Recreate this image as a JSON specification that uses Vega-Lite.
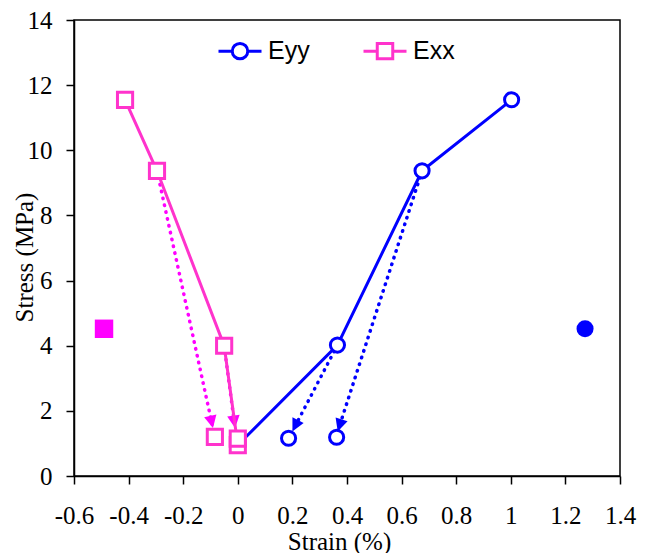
{
  "$schema": "https://vega.github.io/schema/vega-lite/v6.json",
  "autosize": "none",
  "width": 546,
  "height": 456,
  "padding": {"left": 74, "top": 20, "right": 28, "bottom": 77},
  "background": "white",
  "config": {
    "view": {"stroke": "black", "strokeWidth": 1.5},
    "axis": {
      "grid": false,
      "domainColor": "black",
      "domainWidth": 1.5,
      "tickColor": "black",
      "tickWidth": 1.5,
      "tickSize": 8,
      "labelFont": "Liberation Serif",
      "labelFontSize": 25,
      "labelColor": "black",
      "titleFont": "Liberation Serif",
      "titleFontSize": 25,
      "titleFontWeight": "normal",
      "titleColor": "black"
    }
  },
  "datasets": {
    "lines": [
      {"series": "Eyy", "i": 1, "strain": 0.0, "stress": 0.95},
      {"series": "Eyy", "i": 2, "strain": 0.365, "stress": 4.02},
      {"series": "Eyy", "i": 3, "strain": 0.675, "stress": 9.37},
      {"series": "Eyy", "i": 4, "strain": 1.003, "stress": 11.55},
      {"series": "Exx", "i": 1, "strain": 0.0, "stress": 0.95},
      {"series": "Exx", "i": 2, "strain": -0.05, "stress": 4.0},
      {"series": "Exx", "i": 3, "strain": -0.296, "stress": 9.37},
      {"series": "Exx", "i": 4, "strain": -0.413, "stress": 11.55}
    ],
    "unload": [
      {"series": "Eyy", "strain": 0.186, "stress": 1.16},
      {"series": "Eyy", "strain": 0.362, "stress": 1.19},
      {"series": "Exx", "strain": -0.084, "stress": 1.2},
      {"series": "Exx", "strain": 0.0, "stress": 1.15}
    ],
    "filled": [
      {"series": "Exx", "strain": -0.49, "stress": 4.52},
      {"series": "Eyy", "strain": 1.272, "stress": 4.52}
    ],
    "arrows": [
      {"id": "b1", "series": "Eyy", "strain": 0.365, "stress": 4.02, "strain2": 0.2, "stress2": 1.37},
      {"id": "b2", "series": "Eyy", "strain": 0.675, "stress": 9.37, "strain2": 0.366, "stress2": 1.37},
      {"id": "p1", "series": "Exx", "strain": -0.296, "stress": 9.37, "strain2": -0.091, "stress2": 1.47},
      {"id": "p2", "series": "Exx", "strain": -0.05, "stress": 4.0, "strain2": -0.01, "stress2": 1.47}
    ]
  },
  "encoding": {
    "x": {
      "field": "strain", "type": "quantitative",
      "scale": {"domain": [-0.6, 1.4], "nice": false, "zero": false},
      "axis": {
        "title": "Strain (%)",
        "values": [-0.6, -0.4, -0.2, 0, 0.2, 0.4, 0.6, 0.8, 1, 1.2, 1.4],
        "labelExpr": "replace(format(datum.value, '.1~f'), '\u2212', '-')",
        "labelPadding": 19,
        "labelFlush": false,
        "titleX": 265,
        "titleY": 73,
        "titleBaseline": "alphabetic",
        "titleAlign": "center"
      }
    },
    "y": {
      "field": "stress", "type": "quantitative",
      "scale": {"domain": [0, 14], "nice": false},
      "axis": {
        "title": "Stress (MPa)",
        "values": [0, 2, 4, 6, 8, 10, 12, 14],
        "labelPadding": 14,
        "labelFlush": false,
        "titleX": -42,
        "titleY": 237,
        "titleAngle": -90,
        "titleAlign": "center",
        "titleBaseline": "alphabetic"
      }
    }
  },
  "layer": [
    {
      "data": {"name": "arrows"},
      "mark": {"type": "rule", "strokeDash": [0.5, 6.5], "strokeCap": "round", "strokeWidth": 3.5},
      "encoding": {
        "x2": {"field": "strain2"},
        "y2": {"field": "stress2"},
        "color": {"condition": {"test": "datum.series === 'Eyy'", "value": "#0000FF"}, "value": "#FF00FF"}
      }
    },
    {
      "data": {"name": "arrows"},
      "mark": {"type": "point", "filled": true, "shape": "M0,0L-0.55,-1.1L0.55,-1.1Z", "size": 520, "opacity": 1},
      "encoding": {
        "x": {"field": "strain2", "type": "quantitative"},
        "y": {"field": "stress2", "type": "quantitative"},
        "angle": {
          "condition": [
            {"test": "datum.id === 'b1'", "value": 26.8},
            {"test": "datum.id === 'b2'", "value": 17.9},
            {"test": "datum.id === 'p1'", "value": -12.3}
          ],
          "value": -7.6
        },
        "color": {"condition": {"test": "datum.series === 'Eyy'", "value": "#0000FF"}, "value": "#FF00FF"}
      }
    },
    {
      "data": {"name": "lines"},
      "mark": {"type": "line", "strokeWidth": 3},
      "encoding": {
        "detail": {"field": "series"},
        "order": {"field": "i"},
        "color": {"condition": {"test": "datum.series === 'Eyy'", "value": "#0000FF"}, "value": "#FF33CC"}
      }
    },
    {
      "data": {"name": "lines"},
      "transform": [{"filter": "datum.series === 'Eyy'"}],
      "mark": {"type": "point", "filled": true, "fill": "white", "stroke": "#0000FF", "strokeWidth": 3, "shape": "circle", "size": 200, "opacity": 1}
    },
    {
      "data": {"name": "unload"},
      "transform": [{"filter": "datum.series === 'Eyy'"}],
      "mark": {"type": "point", "filled": true, "fill": "white", "stroke": "#0000FF", "strokeWidth": 3, "shape": "circle", "size": 200, "opacity": 1}
    },
    {
      "data": {"name": "lines"},
      "transform": [{"filter": "datum.series === 'Exx'"}],
      "mark": {"type": "point", "filled": true, "fill": "white", "stroke": "#FF33CC", "strokeWidth": 3, "shape": "square", "size": 230, "opacity": 1}
    },
    {
      "data": {"name": "unload"},
      "transform": [{"filter": "datum.series === 'Exx'"}],
      "mark": {"type": "point", "filled": true, "fill": "white", "stroke": "#FF33CC", "strokeWidth": 3, "shape": "square", "size": 230, "opacity": 1}
    },
    {
      "data": {"name": "filled"},
      "mark": {"type": "point", "filled": true, "opacity": 1},
      "encoding": {
        "shape": {"condition": {"test": "datum.series === 'Eyy'", "value": "circle"}, "value": "square"},
        "size": {"condition": {"test": "datum.series === 'Eyy'", "value": 290}, "value": 340},
        "color": {"condition": {"test": "datum.series === 'Eyy'", "value": "#0000FF"}, "value": "#FF00FF"}
      }
    },
    {
      "data": {"name": "lines"},
      "mark": {"type": "point", "filled": false, "opacity": 0, "strokeWidth": 3},
      "encoding": {
        "color": {
          "field": "series", "type": "nominal",
          "scale": {"domain": ["Eyy", "Exx"], "range": ["#0000FF", "#FF33CC"]},
          "legend": {
            "title": null,
            "orient": "none",
            "legendX": 143,
            "legendY": 8,
            "direction": "horizontal",
            "padding": 0,
            "labelFont": "Liberation Sans",
            "labelFontSize": 25,
            "labelColor": "black",
            "labelOffset": 5,
            "columnPadding": 47,
            "symbolSize": 1849,
            "symbolStrokeWidth": 3,
            "symbolOpacity": 1,
            "symbolFillColor": "white"
          }
        },
        "shape": {
          "field": "series", "type": "nominal",
          "scale": {"domain": ["Eyy", "Exx"], "range": [
            "M-1,0L-0.36,0M0.36,0L1,0M0.36,0A0.36,0.36,0,1,1,-0.36,0A0.36,0.36,0,1,1,0.36,0Z",
            "M-1,0L-0.36,0M0.36,0L1,0M-0.36,-0.36L0.36,-0.36L0.36,0.36L-0.36,0.36Z"
          ]}
        }
      }
    }
  ]
}
